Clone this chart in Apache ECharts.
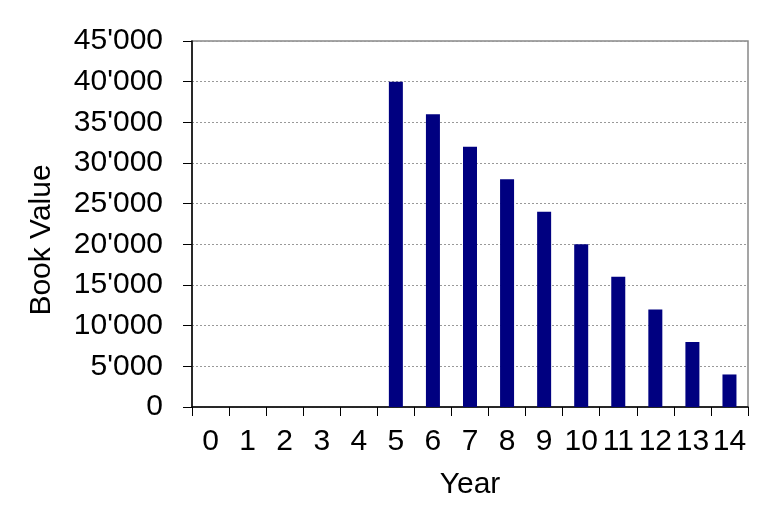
<!DOCTYPE html>
<html><head><meta charset="utf-8">
<script src="https://cdn.jsdelivr.net/npm/echarts@6/dist/echarts.min.js"></script>
<style>html,body{margin:0;padding:0;background:#fff}#c{width:768px;height:525px}</style>
</head><body><div id="c"></div>
<script>
const categories = ['0','1','2','3','4','5','6','7','8','9','10','11','12','13','14'];
const bookValue = [0,0,0,0,0,40000,36000,32000,28000,24000,20000,16000,12000,8000,4000];
const yTicks = {min:0, max:45000, interval:5000};

const chart = echarts.init(document.getElementById('c'));
const font = 'Liberation Sans, Arial, sans-serif';
chart.setOption({
  animation:false,
  grid:{left:192, right:20, top:41, bottom:118, show:true, borderColor:'#888', borderWidth:1.5, backgroundColor:'#fff'},
  xAxis:{type:'category', data:categories, name:'Year', nameLocation:'middle', nameGap:63,
    nameTextStyle:{fontFamily:font, fontSize:30, color:'#000'},
    axisLine:{lineStyle:{color:'#000', width:1.5}},
    axisTick:{show:true, length:9, inside:false, alignWithLabel:false, lineStyle:{color:'#000'}},
    axisLabel:{fontFamily:font, fontSize:30, color:'#000', margin:20, interval:0}},
  yAxis:{type:'value', min:yTicks.min, max:yTicks.max, interval:yTicks.interval,
    name:'Book Value', nameLocation:'middle', nameGap:135, nameRotate:90,
    nameTextStyle:{fontFamily:font, fontSize:30, color:'#000', padding:[0,32,0,0]},
    axisLine:{show:true, lineStyle:{color:'#000', width:1.5}},
    axisTick:{show:true, length:9, lineStyle:{color:'#000'}},
    axisLabel:{fontFamily:font, fontSize:30, color:'#000', margin:29,
      formatter:v=>v===0?'0':(v/1000)+"'000"},
    splitLine:{show:true, lineStyle:{color:'#999', type:[2,2], width:1}}},
  series:[{type:'bar', data:bookValue, barWidth:14, itemStyle:{color:'#000080'}}]
});
</script></body></html>
